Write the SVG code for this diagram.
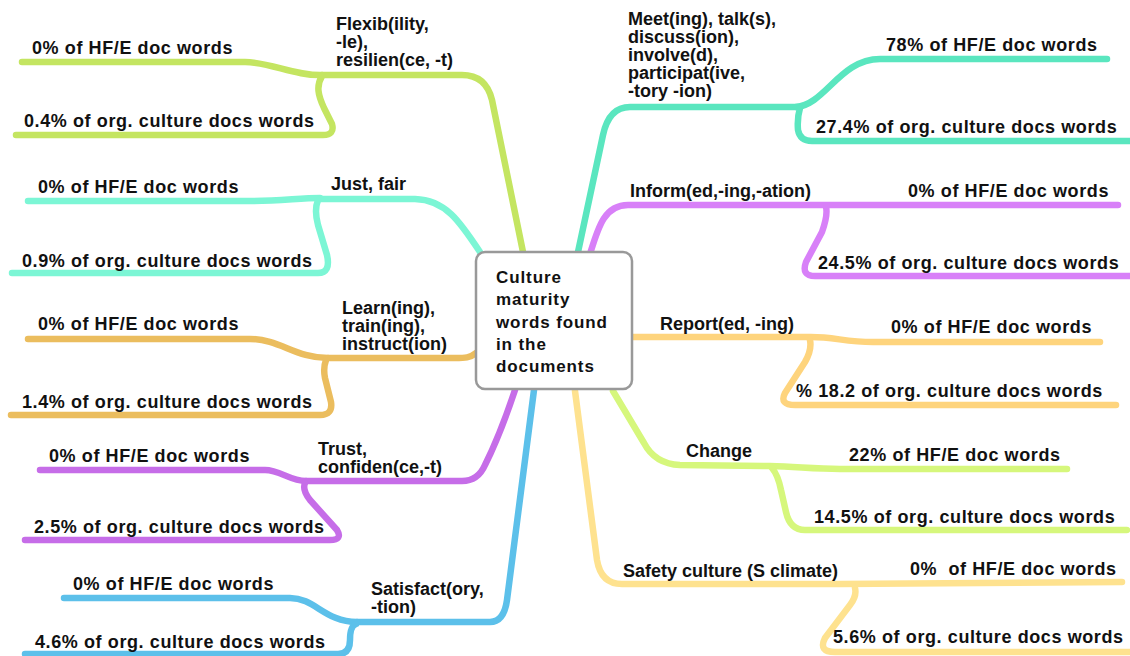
<svg xmlns="http://www.w3.org/2000/svg" width="1130" height="656" viewBox="0 0 1130 656">
  <style>
    .ln { fill: none; stroke-width: 6.5; stroke-linecap: round; stroke-linejoin: round; }
    .flex { stroke: #c4e561; }
    .just { stroke: #7cf6d5; }
    .learn { stroke: #ebbd5e; }
    .trust { stroke: #c66de8; }
    .satis { stroke: #5cc0ea; }
    .meet { stroke: #5ae6bf; }
    .inform { stroke: #d880f8; }
    .report { stroke: #fed47d; }
    .change { stroke: #d6f77c; }
    .safety { stroke: #fee28f; }
    text { font-family: "Liberation Sans", Arial, sans-serif; font-weight: bold; fill: #111; }
    .pct { font-size: 18px; letter-spacing: 0.6px; }
    .br { font-size: 18px; }
    .hub { font-size: 17px; letter-spacing: 0.9px; }
    .box { fill: #ffffff; stroke: #999999; stroke-width: 2.5; }
  </style>

  <g id="connectors">
    <!-- left side -->
    <path class="ln flex" d="M 523 252 L 492 100 Q 486 75 462 75 L 322 75"/>
    <path class="ln flex" d="M 322 75 C 295 76, 270 62, 245 62 L 22 62"/>
    <path class="ln flex" d="M 322 76 C 316 86, 318 95, 324 108 L 332 124 Q 335 135 323 135 L 16 135"/>

    <path class="ln just" d="M 484 258 C 462 225, 448 200, 415 199 L 320 199"/>
    <path class="ln just" d="M 320 198 C 300 198, 280 201, 250 201 L 28 201"/>
    <path class="ln just" d="M 318 200 Q 314 210, 318 225 L 327 255 Q 331 273 318 273 L 12 273"/>

    <path class="ln learn" d="M 476 353 C 470 358, 465 358, 455 358 L 328 358"/>
    <path class="ln learn" d="M 328 358 C 295 358, 280 339, 250 339 L 28 339"/>
    <path class="ln learn" d="M 326 360 Q 323 368, 325 378 L 331 402 Q 333 415 320 415 L 11 415"/>

    <path class="ln trust" d="M 515 390 C 505 420, 495 445, 485 465 Q 478 481 462 481 L 306 481"/>
    <path class="ln trust" d="M 306 481 C 290 481, 280 470, 265 470 L 40 470"/>
    <path class="ln trust" d="M 305 483 Q 302 490, 310 500 L 337 530 Q 343 540 330 540 L 25 540"/>

    <path class="ln satis" d="M 534 390 L 507 600 Q 504 622 490 622 L 357 622"/>
    <path class="ln satis" d="M 357 622 C 325 622, 315 598, 290 598 L 64 598"/>
    <path class="ln satis" d="M 356 624 Q 350 626, 350 640 Q 350 654 338 654 L 25 654"/>

    <!-- right side -->
    <path class="ln meet" d="M 578 252 L 603 135 Q 609 107 630 107 L 798 107"/>
    <path class="ln meet" d="M 796 107 C 825 105, 840 59, 880 59 L 1107 59"/>
    <path class="ln meet" d="M 800 108 Q 797 118, 798 130 Q 800 141 812 141 L 1130 141"/>

    <path class="ln inform" d="M 590 254 C 598 228, 604 205, 628 205 L 1118 205"/>
    <path class="ln inform" d="M 826 207 Q 828 215, 822 232 L 806 262 Q 801 276 815 276 L 1130 276"/>

    <path class="ln report" d="M 632 337 L 811 337 C 835 337, 845 342, 873 342 L 1100 342"/>
    <path class="ln report" d="M 810 340 Q 812 350, 805 362 L 785 393 Q 779 405 795 405 L 1116 405"/>

    <path class="ln change" d="M 613 391 L 644 443 Q 655 464 680 465 L 770 466 C 800 467, 815 469, 840 469 L 1067 469"/>
    <path class="ln change" d="M 772 468 Q 778 475, 781 490 L 786 512 Q 790 530 805 530 L 1127 530"/>

    <path class="ln safety" d="M 575 391 L 597 560 Q 601 584 622 584 L 840 584 L 1122 582"/>
    <path class="ln safety" d="M 855 588 Q 857 596, 850 605 L 825 638 Q 818 652 835 652 L 1130 652"/>
  </g>

  <g id="hub">
    <rect class="box" x="476" y="252" width="156" height="137" rx="9"/>
    <text class="hub" x="496" y="283">Culture</text>
    <text class="hub" x="496" y="305">maturity</text>
    <text class="hub" x="496" y="328">words found</text>
    <text class="hub" x="496" y="350">in the</text>
    <text class="hub" x="496" y="372">documents</text>
  </g>

  <g id="flexibility">
    <text class="br" x="336" y="30">Flexib(ility,</text>
    <text class="br" x="336" y="48">-le),</text>
    <text class="br" x="336" y="66">resilien(ce, -t)</text>
    <text class="pct" x="32" y="54">0% of HF/E doc words</text>
    <text class="pct" x="24" y="127">0.4% of org. culture docs words</text>
  </g>

  <g id="just-fair">
    <text class="br" x="331" y="190">Just, fair</text>
    <text class="pct" x="38" y="193">0% of HF/E doc words</text>
    <text class="pct" x="22" y="267">0.9% of org. culture docs words</text>
  </g>

  <g id="learning">
    <text class="br" x="342" y="314">Learn(ing),</text>
    <text class="br" x="342" y="332">train(ing),</text>
    <text class="br" x="342" y="350">instruct(ion)</text>
    <text class="pct" x="38" y="330">0% of HF/E doc words</text>
    <text class="pct" x="22" y="408">1.4% of org. culture docs words</text>
  </g>

  <g id="trust">
    <text class="br" x="318" y="455">Trust,</text>
    <text class="br" x="318" y="473">confiden(ce,-t)</text>
    <text class="pct" x="49" y="462">0% of HF/E doc words</text>
    <text class="pct" x="34" y="533">2.5% of org. culture docs words</text>
  </g>

  <g id="satisfaction">
    <text class="br" x="371" y="595">Satisfact(ory,</text>
    <text class="br" x="371" y="613">-tion)</text>
    <text class="pct" x="73" y="590">0% of HF/E doc words</text>
    <text class="pct" x="35" y="648">4.6% of org. culture docs words</text>
  </g>

  <g id="meeting">
    <text class="br" x="628" y="25">Meet(ing), talk(s),</text>
    <text class="br" x="628" y="43">discuss(ion),</text>
    <text class="br" x="628" y="61">involve(d),</text>
    <text class="br" x="628" y="79">participat(ive,</text>
    <text class="br" x="628" y="97">-tory -ion)</text>
    <text class="pct" x="886" y="51">78% of HF/E doc words</text>
    <text class="pct" x="816" y="133">27.4% of org. culture docs words</text>
  </g>

  <g id="information">
    <text class="br" x="630" y="197">Inform(ed,-ing,-ation)</text>
    <text class="pct" x="908" y="197">0% of HF/E doc words</text>
    <text class="pct" x="818" y="269">24.5% of org. culture docs words</text>
  </g>

  <g id="reporting">
    <text class="br" x="660" y="330">Report(ed, -ing)</text>
    <text class="pct" x="891" y="333">0% of HF/E doc words</text>
    <text class="pct" x="796" y="397">% 18.2 of org. culture docs words</text>
  </g>

  <g id="change">
    <text class="br" x="686" y="457">Change</text>
    <text class="pct" x="849" y="461">22% of HF/E doc words</text>
    <text class="pct" x="814" y="523">14.5% of org. culture docs words</text>
  </g>

  <g id="safety-culture">
    <text class="br" x="623" y="577">Safety culture (S climate)</text>
    <text class="pct" x="910" y="575" xml:space="preserve">0%  of HF/E doc words</text>
    <text class="pct" x="833" y="643">5.6% of org. culture docs words</text>
  </g>
</svg>
